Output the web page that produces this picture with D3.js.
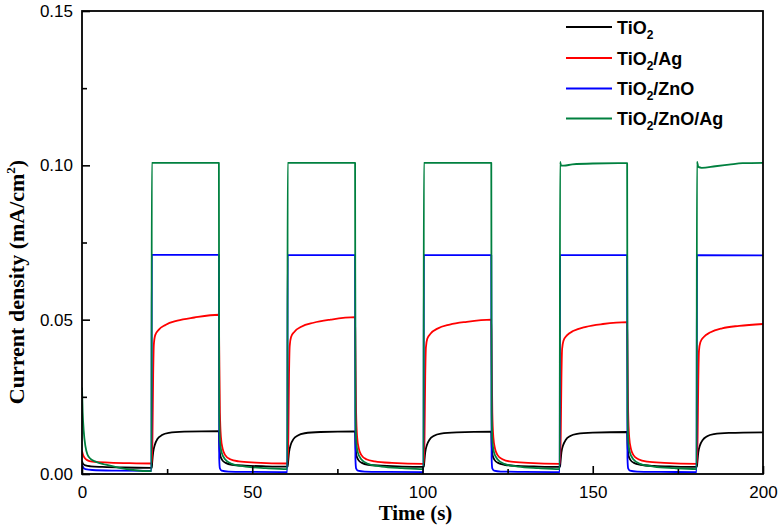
<!DOCTYPE html>
<html><head><meta charset="utf-8">
<script src="https://cdn.jsdelivr.net/npm/d3@7"></script>
<style>
body{margin:0;background:#fff;}
svg{display:block;}
</style></head>
<body>
<svg id="chart" width="779" height="526"></svg>
<script>
// ---------- data ----------
const seriesNames = ["TiO2", "TiO2/Ag", "TiO2/ZnO", "TiO2/ZnO/Ag"];
const xTicks = [0, 50, 100, 150, 200];
const xMinorTicks = [25, 75, 125, 175];
const yTicks = [0, 0.05, 0.10, 0.15];
const yMinorTicks = [0.025, 0.075, 0.125];

const tio2 = [
 [0,0.0042],[0.3,0.0033],[1,0.0028],[2.5,0.0025],[6,0.0023],[12,0.0021],[20.5,0.0020],
 [20.6,0.0035],[20.9,0.0070],[21.4,0.0095],[22.2,0.0114],[23.5,0.0126],[25.5,0.0133],[30,0.0137],[40.2,0.0139],
 [40.3,0.0100],[40.6,0.0060],[41.2,0.0045],[42.2,0.0036],[44,0.0030],[48,0.0027],[54,0.0025],[60.4,0.0024],
 [60.5,0.0035],[60.8,0.0070],[61.3,0.0095],[62.1,0.0113],[63.4,0.0125],[65.4,0.0132],[70,0.0136],[80.2,0.0138],
 [80.3,0.0100],[80.6,0.0060],[81.2,0.0045],[82.2,0.0036],[84,0.0030],[88,0.0027],[94,0.0024],[100.4,0.0023],
 [100.5,0.0035],[100.8,0.0070],[101.3,0.0094],[102.1,0.0112],[103.4,0.0124],[105.4,0.0131],[110,0.0135],[120.2,0.0137],
 [120.3,0.0100],[120.6,0.0060],[121.2,0.0045],[122.2,0.0036],[124,0.0030],[128,0.0026],[134,0.0024],[140.4,0.0023],
 [140.5,0.0035],[140.8,0.0070],[141.3,0.0093],[142.1,0.0111],[143.4,0.0123],[145.4,0.0130],[150,0.0134],[160.1,0.0136],
 [160.2,0.0100],[160.5,0.0060],[161.1,0.0045],[162.1,0.0036],[164,0.0030],[168,0.0026],[174,0.0024],[180.6,0.0023],
 [180.7,0.0035],[181,0.0070],[181.5,0.0093],[182.3,0.0110],[183.6,0.0122],[185.6,0.0129],[190,0.0133],[200,0.0135]
];
const tio2Ag = [
 [0,0.0075],[0.3,0.0062],[0.8,0.0052],[1.5,0.0045],[3,0.0040],[8,0.0037],[14,0.0035],[20.5,0.0034],
 [20.7,0.0120],[20.9,0.0320],[21.1,0.0420],[21.5,0.0450],[22.5,0.0467],[24.5,0.0483],[28,0.0497],[33,0.0507],[40.2,0.0516],
 [40.3,0.0400],[40.5,0.0200],[40.8,0.0120],[41.3,0.0082],[42,0.0062],[43.5,0.0048],[46,0.0041],[51,0.0037],[60.4,0.0034],
 [60.6,0.0120],[60.8,0.0320],[61,0.0415],[61.4,0.0444],[62.4,0.0461],[64.4,0.0477],[68,0.0490],[73,0.0500],[80.2,0.0508],
 [80.3,0.0400],[80.5,0.0200],[80.8,0.0120],[81.3,0.0082],[82,0.0062],[83.5,0.0048],[86,0.0041],[91,0.0036],[100.4,0.0033],
 [100.6,0.0120],[100.8,0.0315],[101,0.0410],[101.4,0.0438],[102.4,0.0455],[104.4,0.0471],[108,0.0484],[113,0.0493],[120.2,0.0500],
 [120.3,0.0400],[120.5,0.0200],[120.8,0.0120],[121.3,0.0082],[122,0.0062],[123.5,0.0048],[126,0.0040],[131,0.0036],[140.4,0.0033],
 [140.6,0.0120],[140.8,0.0310],[141,0.0405],[141.4,0.0432],[142.4,0.0449],[144.4,0.0464],[148,0.0477],[153,0.0486],[160.1,0.0492],
 [160.2,0.0400],[160.4,0.0200],[160.7,0.0120],[161.2,0.0082],[161.9,0.0062],[163.4,0.0048],[166,0.0040],[171,0.0036],[180.6,0.0033],
 [180.8,0.0120],[181,0.0305],[181.2,0.0400],[181.6,0.0427],[182.6,0.0444],[184.6,0.0459],[188,0.0472],[193,0.0480],[200,0.0486]
];
const tio2ZnO = [
 [0,0.0032],[0.3,0.0022],[1,0.0016],[3,0.0013],[10,0.0011],[20.4,0.0010],
 [20.5,0.0710],[40.2,0.0710],
 [40.3,0.0050],[40.5,0.0018],[41,0.0011],[43,0.0008],[50,0.0007],[60.3,0.0006],
 [60.4,0.0709],[80.2,0.0709],
 [80.3,0.0050],[80.5,0.0018],[81,0.0011],[83,0.0008],[90,0.0007],[100.3,0.0006],
 [100.4,0.0709],[120.2,0.0709],
 [120.3,0.0050],[120.5,0.0018],[121,0.0011],[123,0.0008],[130,0.0007],[140.3,0.0006],
 [140.4,0.0709],[160.1,0.0709],
 [160.2,0.0050],[160.4,0.0018],[160.9,0.0011],[163,0.0008],[170,0.0007],[180.5,0.0006],
 [180.6,0.0709],[200,0.0708]
];
const tio2ZnOAg = [
 [0,0.0280],[0.2,0.0200],[0.5,0.0140],[1,0.0090],[1.6,0.0063],[2.5,0.0049],[4,0.0040],[7,0.0030],[11,0.0020],[15,0.0013],[20.4,0.0009],
 [20.5,0.1008],[40.2,0.1008],
 [40.3,0.0200],[40.5,0.0110],[41,0.0070],[42,0.0048],[44,0.0033],[48,0.0024],[54,0.0019],[60.3,0.0016],
 [60.4,0.1008],[80.2,0.1008],
 [80.3,0.0200],[80.5,0.0110],[81,0.0070],[82,0.0048],[84,0.0033],[88,0.0024],[94,0.0019],[100.3,0.0016],
 [100.4,0.1008],[120.2,0.1008],
 [120.3,0.0200],[120.5,0.0110],[121,0.0070],[122,0.0048],[124,0.0033],[128,0.0024],[134,0.0019],[140.3,0.0016],
 [140.4,0.1011],[140.7,0.1000],[141.5,0.0999],[144,0.1003],[150,0.1006],[160.1,0.1007],
 [160.2,0.0200],[160.4,0.0110],[160.9,0.0070],[161.9,0.0048],[163.9,0.0033],[167.9,0.0024],[173.9,0.0019],[180.5,0.0016],
 [180.6,0.1012],[181.0,0.0995],[182,0.0992],[186,0.0997],[190,0.1002],[194,0.1007],[200,0.1008]
];
const seriesData = [tio2, tio2Ag, tio2ZnO, tio2ZnOAg];
const seriesColors = ["#000000", "#ff0000", "#0000ff", "#00803f"];

// ---------- layout ----------
const svg = d3.select("#chart");
const L = 82, R = 763, T = 11, B = 474;
const x = d3.scaleLinear().domain([0, 200]).range([L, R]);
const y = d3.scaleLinear().domain([0, 0.15]).range([B, T]);

// lines
const line = d3.line().x(d => x(d[0])).y(d => y(d[1])).curve(d3.curveMonotoneX);
svg.append("clipPath").attr("id", "clip").append("rect")
  .attr("x", L).attr("y", T).attr("width", R - L).attr("height", B - T);
const lines = svg.append("g").attr("clip-path", "url(#clip)");
seriesData.forEach((s, i) => {
  lines.append("path").datum(s).attr("d", line)
    .attr("fill", "none").attr("stroke", seriesColors[i])
    .attr("stroke-width", 1.8).attr("stroke-linejoin", "round");
});

// axes
const tickFont = "'Liberation Sans', Arial, sans-serif";
svg.append("g").attr("transform", `translate(0,${B})`)
  .call(d3.axisBottom(x).tickValues(xTicks).tickSize(-8).tickPadding(12).tickFormat(d3.format("d")));
svg.append("g").attr("transform", `translate(0,${B})`)
  .call(d3.axisBottom(x).tickValues(xMinorTicks).tickSize(-5).tickFormat(""));
svg.append("g").attr("transform", `translate(${L},0)`)
  .call(d3.axisLeft(y).tickValues(yTicks).tickSize(-8).tickPadding(9).tickFormat(d3.format(".2f")));
svg.append("g").attr("transform", `translate(${L},0)`)
  .call(d3.axisLeft(y).tickValues(yMinorTicks).tickSize(-5).tickFormat(""));
svg.selectAll(".domain").remove();
svg.selectAll(".tick line").attr("stroke", "#000").attr("stroke-width", 1.6);
svg.selectAll(".tick text").attr("font-family", tickFont).attr("font-size", 17).attr("fill", "#000");

// frame
svg.append("rect").attr("x", L).attr("y", T).attr("width", R - L).attr("height", B - T)
  .attr("fill", "none").attr("stroke", "#000").attr("stroke-width", 1.8);

// axis titles
const serif = "'Liberation Serif', 'Times New Roman', serif";
svg.append("text").attr("x", (L + R) / 2 - 7).attr("y", 520)
  .attr("text-anchor", "middle").attr("font-family", serif).attr("font-weight", "bold")
  .attr("font-size", 21).text("Time (s)");
const yt = svg.append("text").attr("transform", "translate(24,282) rotate(-90)")
  .attr("text-anchor", "middle").attr("font-family", serif).attr("font-weight", "bold")
  .attr("font-size", 22);
yt.append("tspan").text("Current density (mA/cm");
yt.append("tspan").attr("font-size", 13).attr("dy", -9).text("2");
yt.append("tspan").attr("dy", 9).text(")");

// legend
const legRows = [27, 58, 88.5, 118.5];
const leg = svg.append("g");
seriesNames.forEach((name, i) => {
  const ry = legRows[i];
  leg.append("line").attr("x1", 566).attr("x2", 612).attr("y1", ry).attr("y2", ry)
    .attr("stroke", seriesColors[i]).attr("stroke-width", 1.8);
  const t = leg.append("text").attr("x", 617).attr("y", ry + 6.5)
    .attr("font-family", tickFont).attr("font-weight", "bold").attr("font-size", 18).attr("fill", "#000");
  const parts = name.split("2");
  t.append("tspan").text(parts[0]);
  t.append("tspan").attr("font-size", 12).attr("dy", 5).text("2");
  if (parts[1]) t.append("tspan").attr("dy", -5).text(parts[1]);
});
</script>
</body></html>
